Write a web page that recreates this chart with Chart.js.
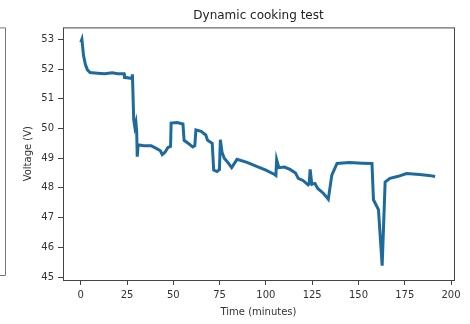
<!DOCTYPE html>
<html>
<head>
<meta charset="utf-8">
<script src="https://cdn.jsdelivr.net/npm/chart.js@4"></script>
<style>
    body { margin: 0; background: #fff; }
    canvas { display: block; }
</style>
</head>
<body>
<canvas id="chart" width="470" height="324"></canvas>
<script>
// time in minutes / voltage in V
const times = [0, 0.6, 1.5, 2.5, 3.6, 5, 9, 13, 17, 20, 23.4, 23.6, 26, 27.6, 27.9,
    28.6, 29.2, 29.8, 30.2, 30.5, 31, 34, 38, 41, 43, 44, 45.5, 47, 48.5, 48.8,
    52, 55.2, 55.8, 58, 60.5, 61.6, 62.2, 65, 67.5, 68.5, 71, 71.8, 73.6, 74.9,
    75.4, 76.3, 77.5, 79.5, 81.5, 84.4, 89.8, 95, 100, 104.7, 105.4, 105.8, 107,
    110, 113, 116, 117.5, 120, 122.8, 123.4, 123.9, 124.8, 126.5, 128, 131, 133.7,
    135.6, 138.4, 145, 152, 157.3, 158.1, 160.8, 162.8, 164.4, 167, 171, 176, 183,
    188, 191.4];
const volts = [52.9, 53.0, 52.45, 52.15, 51.97, 51.88, 51.86, 51.84, 51.87, 51.84, 51.84, 51.72, 51.7, 51.68, 51.82,
    50.3, 50.05, 50.2, 49.9, 49.05, 49.45, 49.42, 49.42, 49.32, 49.25, 49.12, 49.2, 49.35, 49.4, 50.18,
    50.2, 50.15, 49.6, 49.5, 49.38, 49.42, 49.95, 49.9, 49.78, 49.6, 49.5, 48.6, 48.55, 48.62,
    49.62, 49.2, 49.0, 48.85, 48.68, 48.96, 48.86, 48.72, 48.6, 48.45, 48.42, 48.95, 48.68,
    48.7, 48.62, 48.5, 48.32, 48.25, 48.1, 48.15, 48.62, 48.12, 48.15, 47.98, 47.82, 47.62,
    48.43, 48.82, 48.85, 48.83, 48.82, 47.6, 47.27, 45.38, 48.2, 48.32, 48.38, 48.48, 48.45,
    48.42, 48.38];
const xTicks = [0, 25, 50, 75, 100, 125, 150, 175, 200];
const yTicks = [45, 46, 47, 48, 49, 50, 51, 52, 53];

const points = times.map((t, i) => ({ x: t, y: volts[i] }));
const tickFont = { family: 'DejaVu Sans', size: 10 };

// matplotlib style box round the axes, plus the edge of the panel to the left
const framePlugin = {
    id: 'frame',
    afterDraw(chart) {
        const { ctx, chartArea } = chart;
        ctx.save();
        ctx.strokeStyle = '#444';
        ctx.lineWidth = 1;
        ctx.strokeRect(chartArea.left + 0.5, chartArea.top + 0.5,
            chartArea.right - chartArea.left, chartArea.bottom - chartArea.top);
        ctx.strokeStyle = '#777';
        ctx.beginPath();
        ctx.moveTo(0, chartArea.top + 0.5);
        ctx.lineTo(5.5, chartArea.top + 0.5);
        ctx.lineTo(5.5, chartArea.bottom - 4.5);
        ctx.lineTo(0, chartArea.bottom - 4.5);
        ctx.stroke();
        ctx.restore();
    }
};

new Chart(document.getElementById('chart').getContext('2d'), {
    type: 'line',
    data: {
        datasets: [{
            data: points,
            borderColor: '#1d6a9c',
            borderWidth: 3,
            pointRadius: 0,
            fill: false,
            tension: 0
        }]
    },
    options: {
        responsive: false,
        animation: false,
        layout: { padding: { left: 0, right: 16, top: 0, bottom: 0 } },
        plugins: {
            legend: { display: false },
            tooltip: { enabled: false },
            title: {
                display: true,
                fullSize: false,
                text: 'Dynamic cooking test',
                color: '#222',
                font: { family: 'DejaVu Sans', size: 12, weight: 'normal' },
                padding: { top: 9, bottom: 4 }
            }
        },
        scales: {
            x: {
                type: 'linear',
                min: -9.6,
                max: 201.6,
                afterBuildTicks: (scale) => {
                    scale.ticks = xTicks.map(v => ({ value: v }));
                },
                afterFit: (scale) => { scale.height = 44; },
                grid: { drawOnChartArea: false, drawTicks: true, tickLength: 5, tickColor: '#444' },
                border: { display: false },
                ticks: { font: tickFont, color: '#333', padding: 4, maxRotation: 0 },
                title: {
                    display: true,
                    text: 'Time (minutes)',
                    color: '#333',
                    font: tickFont,
                    padding: { top: 6, bottom: 6 }
                }
            },
            y: {
                type: 'linear',
                min: 44.9,
                max: 53.4,
                afterBuildTicks: (scale) => {
                    scale.ticks = yTicks.map(v => ({ value: v }));
                },
                afterFit: (scale) => { scale.width = 63; },
                grid: { drawOnChartArea: false, drawTicks: true, tickLength: 5, tickColor: '#444' },
                border: { display: false },
                ticks: { font: tickFont, color: '#333', padding: 4 },
                title: {
                    display: true,
                    text: 'Voltage (V)',
                    color: '#333',
                    font: tickFont,
                    padding: { top: 22, bottom: 22 }
                }
            }
        }
    },
    plugins: [framePlugin]
});
</script>
</body>
</html>
